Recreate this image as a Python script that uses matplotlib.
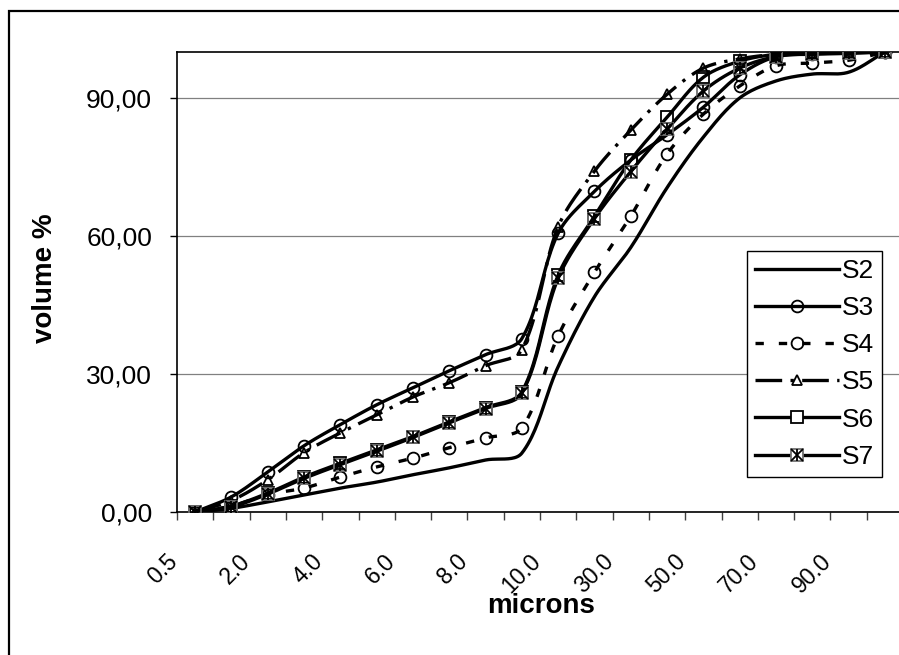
"""
cumulative particle size distribution, samples S2-S7
"""

import matplotlib

matplotlib.use("Agg")
import matplotlib.pyplot as plt
import matplotlib.ticker as ticker
import numpy as np
from matplotlib.lines import Line2D
from matplotlib.patches import Rectangle
from matplotlib.transforms import ScaledTranslation

plt.rcParams["font.family"] = ["Liberation Sans", "DejaVu Sans"]

# %%
# size classes (microns) and cumulative volume % per sample
cats = ["0.5", "1.0", "2.0", "3.0", "4.0", "5.0", "6.0", "7.0", "8.0", "9.0",
        "10.0", "20.0", "30.0", "40.0", "50.0", "60.0", "70.0", "80.0", "90.0", "100.0"]

s2 = [0, 0.8, 2.2, 3.7, 5.2, 6.5, 8.1, 9.6, 11.3, 12.8,
      31.6, 46.8, 57.5, 70.5, 81.5, 90.0, 93.7, 95.2, 95.6, 100]
s3 = [0, 3.3, 8.7, 14.4, 19.0, 23.3, 27.0, 30.7, 34.2, 37.7,
      60.6, 69.7, 76.5, 82.0, 88.0, 95.0, 99.0, 99.5, 99.7, 100]
s4 = [0, 1.3, 3.8, 5.2, 7.6, 9.8, 11.7, 14.0, 16.1, 18.3,
      38.3, 52.1, 64.3, 77.8, 86.5, 92.6, 97.0, 97.6, 98.2, 100]
s5 = [0, 2.5, 7.0, 12.9, 17.2, 21.1, 25.0, 28.1, 31.8, 35.3,
      62.0, 74.1, 83.0, 90.8, 96.5, 98.5, 99.5, 99.8, 99.9, 100]
s6 = [0, 1.3, 4.1, 7.6, 10.6, 13.5, 16.4, 19.6, 22.7, 26.1,
      51.5, 64.3, 76.5, 85.8, 94.5, 98.0, 99.5, 99.8, 99.9, 100]
s7 = [0, 1.1, 3.9, 7.3, 10.3, 13.2, 16.2, 19.4, 22.5, 25.8,
      50.8, 63.8, 74.0, 83.2, 91.5, 96.5, 99.0, 99.6, 99.8, 100]

names = ["S2", "S3", "S4", "S5", "S6", "S7"]

# pixel size of one category / one percent, used to smooth in screen space
SX, SY = 36.3, 4.6


# %%
def smooth(x, y, n=24):
    # excel style smoothed line: bezier segments, control points scaled by the
    # lengths of the neighbouring segments (in screen units)
    p = np.column_stack([np.asarray(x) * SX, np.asarray(y) * SY]).astype(float)
    m = len(p)
    cin = p.copy()
    cout = p.copy()
    for i in range(m):
        prv = p[max(i - 1, 0)]
        nxt = p[min(i + 1, m - 1)]
        l1 = np.hypot(*(p[i] - prv))
        l2 = np.hypot(*(nxt - p[i]))
        if l1 + l2 == 0:
            continue
        d = nxt - prv
        cin[i] = p[i] - d * l1 / (3 * (l1 + l2))
        cout[i] = p[i] + d * l2 / (3 * (l1 + l2))
    t = np.linspace(0, 1, n)[:, None]
    out = [p[:1]]
    for i in range(m - 1):
        seg = ((1 - t) ** 3) * p[i] + 3 * ((1 - t) ** 2) * t * cout[i] \
            + 3 * (1 - t) * t**2 * cin[i + 1] + t**3 * p[i + 1]
        out.append(seg[1:])
    seg = np.vstack(out)
    return seg[:, 0] / SX, seg[:, 1] / SY


LW = 2.4
dash_s4 = (0, (2.5, 4.5))
dash_s5 = (0, (8, 2.5, 1, 2.5))

fig = plt.figure(figsize=(8.99, 6.55), dpi=100)
ax = fig.add_axes([177 / 899, 143 / 655, 726 / 899, 460 / 655])

x = np.arange(len(cats))

# lines
for vals, ls in [(s2, "-"), (s3, "-"), (s4, dash_s4), (s5, dash_s5), (s6, "-"), (s7, "-")]:
    xs, ys = smooth(x, vals)
    ax.plot(xs, ys, color="black", lw=LW, ls=ls, solid_capstyle="butt", zorder=3)

# markers
mk = dict(ls="none", mfc="none", zorder=4)
ax.plot(x, s3, marker="o", ms=8.5, mec="black", mew=1.3, **mk)
ax.plot(x, s4, marker="o", ms=8.5, mec="black", mew=1.3, **mk)
ax.plot(x, s5, marker="^", ms=7.5, mec="black", mew=1.3, **mk)
ax.plot(x, s6, marker="s", ms=9, mec="black", mew=1.3, **mk)
ax.plot(x, s7, marker="s", ms=9, mec="#707070", mew=1.3, **mk)
ax.plot(x, s7, marker="x", ms=9, mec="black", mew=1.3, **mk)
ax.plot(x, s7, marker="|", ms=9, mec="black", mew=1.3, **mk)

# axes
ax.set_xlim(-0.5, len(cats) - 0.5)
ax.set_ylim(0, 100)
ax.set_yticks([0, 30, 60, 90])
ax.yaxis.set_major_formatter(ticker.FuncFormatter(lambda v, _: f"{v:.2f}".replace(".", ",")))
ax.yaxis.grid(True, color="#808080", lw=0.9)
ax.set_axisbelow(True)
ax.tick_params(axis="y", direction="out", length=5, width=1, pad=13, labelsize=19)

ax.set_xticks(np.arange(-0.5, len(cats), 1))
ax.set_xticklabels([])
ax.set_xticks(x[::2], labels=cats[::2], minor=True)
ax.tick_params(axis="x", which="major", direction="out", length=6, width=1, color="#404040")
ax.tick_params(axis="x", which="minor", length=0, pad=27, labelsize=16.5, labelrotation=45)
for lab in ax.get_xticklabels(minor=True):
    lab.set_ha("right")
    lab.set_transform(lab.get_transform() + ScaledTranslation(-0.13, 0, fig.dpi_scale_trans))

for sp in ax.spines.values():
    sp.set_linewidth(1.2)
    sp.set_color("black")

fig.text(45 / 899, 1 - 278 / 655, "volume %", rotation=90, ha="center", va="center",
         fontsize=20, fontweight="bold")
fig.text(541 / 899, 1 - 606 / 655, "microns", ha="center", va="center",
         fontsize=20, fontweight="bold")

# legend
h2 = Line2D([], [], color="black", lw=LW)
h3 = Line2D([], [], color="black", lw=LW, marker="o", ms=8.5, mfc="none", mec="black", mew=1.3)
h4 = Line2D([], [], color="black", lw=LW, ls=dash_s4, marker="o", ms=8.5, mfc="none", mec="black", mew=1.3)
h5 = Line2D([], [], color="black", lw=LW, ls=dash_s5, marker="^", ms=7.5, mfc="none", mec="black", mew=1.3)
h6 = Line2D([], [], color="black", lw=LW, marker="s", ms=9, mfc="white", mec="black", mew=1.3)
h7a = Line2D([], [], color="black", lw=LW, marker="s", ms=9, mfc="white", mec="#707070", mew=1.3)
h7b = Line2D([], [], ls="none", marker="x", ms=9, mec="black", mew=1.3)
h7c = Line2D([], [], ls="none", marker="|", ms=9, mec="black", mew=1.3)

leg = ax.legend([h2, h3, h4, h5, h6, (h7a, h7b, h7c)], names,
                loc="upper left", bbox_to_anchor=(747 / 899, 1 - 251 / 655),
                bbox_transform=fig.transFigure, borderaxespad=0,
                fontsize=19, handlelength=3.2, handletextpad=0.1, labelspacing=0.5,
                borderpad=0.3, fancybox=False, framealpha=1, edgecolor="black")
leg.get_frame().set_linewidth(1.0)

# chart border
fig.patches.append(Rectangle((9 / 899, -0.1), 1.2, 1.1 - 11 / 655, transform=fig.transFigure,
                             fill=False, lw=1.6, ec="black"))

fig.savefig("out.png", dpi=100)
